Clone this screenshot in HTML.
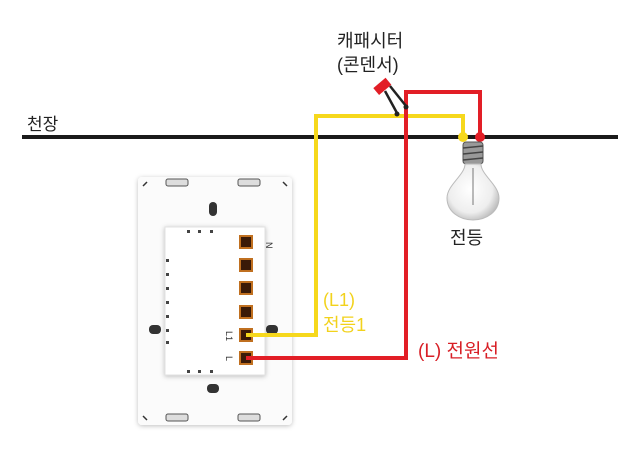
<!DOCTYPE html>
<html><head><meta charset="utf-8"><style>
html,body{margin:0;padding:0;background:#fff;}
body{width:618px;height:453px;overflow:hidden;position:relative;font-family:"Liberation Sans","Noto Sans CJK KR",sans-serif;}
</style></head><body>
<svg width="618" height="453" viewBox="0 0 618 453" xmlns="http://www.w3.org/2000/svg" style="position:absolute;left:0;top:0">
<defs>
<filter id="sh" x="-20%" y="-20%" width="140%" height="140%"><feDropShadow dx="0" dy="1" stdDeviation="2.5" flood-color="#000" flood-opacity="0.25"/></filter>
<radialGradient id="bulb" cx="0.45" cy="0.45" r="0.6"><stop offset="0" stop-color="#fff"/><stop offset="0.7" stop-color="#eee"/><stop offset="1" stop-color="#bbb"/></radialGradient>
</defs>
<rect x="22" y="135" width="596" height="4" fill="#1a1a1a"/>
<rect x="138" y="177" width="154" height="248" rx="4" fill="#fbfbfb" filter="url(#sh)"/>
<g fill="none" stroke="#333" stroke-width="1.5">
<path d="M143 186 l4 -4"/><path d="M287 186 l-4 -4"/><path d="M143 416 l4 4"/><path d="M287 416 l-4 4"/>
</g>
<g fill="#ddd" stroke="#555" stroke-width="1">
<rect x="166" y="179" width="22" height="7" rx="2"/><rect x="238" y="179" width="22" height="7" rx="2"/>
<rect x="166" y="414" width="22" height="7" rx="2"/><rect x="238" y="414" width="22" height="7" rx="2"/>
</g>
<rect x="209" y="202" width="8" height="14" rx="4" fill="#333"/>
<rect x="207" y="384" width="12" height="9" rx="4" fill="#333"/>
<rect x="149" y="325" width="12" height="9" rx="4" fill="#333"/>
<rect x="266" y="325" width="12" height="9" rx="4" fill="#333"/>
<rect x="165" y="227" width="100" height="148" fill="#fff" stroke="#e2e2e2" filter="url(#sh)"/>
<g fill="#444">
<rect x="187" y="230" width="3" height="3"/><rect x="198" y="230" width="3" height="3"/><rect x="210" y="230" width="3" height="3"/>
<rect x="187" y="370" width="3" height="3"/><rect x="198" y="370" width="3" height="3"/><rect x="210" y="370" width="3" height="3"/>
<rect x="166" y="259" width="3" height="3"/><rect x="166" y="273" width="3" height="3"/><rect x="166" y="287" width="3" height="3"/><rect x="166" y="301" width="3" height="3"/><rect x="166" y="315" width="3" height="3"/><rect x="166" y="329" width="3" height="3"/><rect x="166" y="341" width="3" height="3"/>
</g>
<g fill="#3a1a08" stroke="#c07020" stroke-width="2">
<rect x="240" y="236" width="12" height="12"/><rect x="240" y="259" width="12" height="12"/><rect x="240" y="282" width="12" height="12"/><rect x="240" y="306" width="12" height="12"/><rect x="240" y="329" width="12" height="12"/><rect x="240" y="352" width="12" height="12"/>
</g>
<g font-size="9" fill="#333" font-family="Liberation Sans,sans-serif">
<text x="270" y="246" transform="rotate(90 270 242)">N</text>
<text x="226" y="339" transform="rotate(90 230 335)">L1</text>
<text x="228" y="362" transform="rotate(90 230 358)">L</text>
</g>
<polyline points="246,335 316,335 316,116 463,116 463,134" fill="none" stroke="#f6d81c" stroke-width="4"/>
<polyline points="246,358 406,358 406,92 480,92 480,134" fill="none" stroke="#e21e26" stroke-width="4"/>
<circle cx="463" cy="137" r="5" fill="#f6d81c"/>
<circle cx="480" cy="137" r="5" fill="#e21e26"/>
<g>
<line x1="385" y1="91" x2="397" y2="113" stroke="#222" stroke-width="2.5"/>
<line x1="390" y1="86" x2="406" y2="106" stroke="#222" stroke-width="2.5"/>
<rect x="374" y="82" width="16" height="9" fill="#e21e26" transform="rotate(-40 382 86)"/>
<circle cx="397" cy="114" r="2.5" fill="#222"/><circle cx="406" cy="107" r="2.5" fill="#222"/>
</g>
<g>
<rect x="463" y="142" width="20" height="22" rx="3" fill="#999" stroke="#555"/>
<g stroke="#444" stroke-width="1.5"><line x1="463" y1="148" x2="483" y2="146"/><line x1="463" y1="154" x2="483" y2="152"/><line x1="463" y1="160" x2="483" y2="158"/></g>
<path d="M465 164 C465 175 447 185 447 198 C447 212 460 220 473 220 C486 220 499 212 499 198 C499 185 481 175 481 164 Z" fill="url(#bulb)" stroke="#bbb"/>
<line x1="473" y1="168" x2="473" y2="205" stroke="#777" stroke-width="1"/>
</g>
<g font-family="Liberation Sans,Noto Sans CJK KR,sans-serif">
<text x="27" y="130" font-size="17" fill="#222">천장</text>
<text x="337" y="47" font-size="18" fill="#222">캐패시터</text>
<text x="337" y="71" font-size="18" fill="#222">(콘덴서)</text>
<text x="450" y="244" font-size="18" fill="#222">전등</text>
<text x="323" y="306" font-size="18" fill="#f2d21c">(L1)</text>
<text x="323" y="331" font-size="18" fill="#f2d21c">전등1</text>
<text x="418" y="357" font-size="19" fill="#d81f26">(L) 전원선</text>
</g>
</svg>
</body></html>
